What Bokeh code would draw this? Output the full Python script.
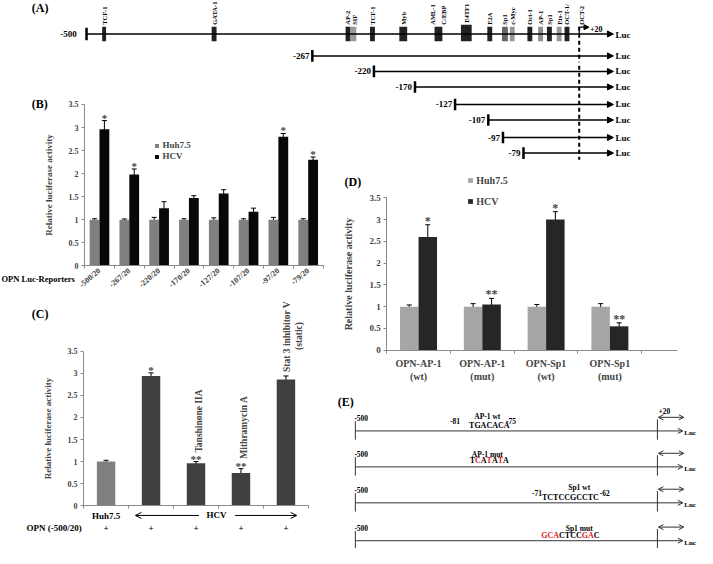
import math
from bokeh.plotting import figure
from bokeh.models import (Range1d, FixedTicker, Whisker, TeeHead, ColumnDataSource,
                          Legend, LegendItem, Label, LabelSet, Arrow, NormalHead, OpenHead)
from bokeh.core.properties import value
from bokeh.layouts import column, row
from bokeh.embed import file_html
from bokeh.resources import INLINE

FONT = "Liberation Serif"
AXIS = "#8a8a8a"
SX = 697 / 713   # reference px -> layout px
SY = 548 / 564

# ---------------- data ----------------
y_ticks = [0, 0.5, 1, 1.5, 2, 2.5, 3, 3.5]
y_tick_labels = ["0", "0.5", "1", "1.5", "2", "2.5", "3", "3.5"]
y_title = "Relative luciferase activity"
series_names = ["Huh7.5", "HCV"]

# Panel B
b_categories = ["-500/20", "-267/20", "-220/20", "-170/20", "-127/20", "-107/20", "-97/20", "-79/20"]
b_huh = [1.0, 1.0, 1.0, 1.0, 1.0, 1.0, 1.0, 1.0]
b_huh_err = [0.02, 0.015, 0.05, 0.02, 0.04, 0.02, 0.05, 0.02]
b_hcv = [2.96, 1.98, 1.25, 1.47, 1.57, 1.17, 2.80, 2.30]
b_hcv_err = [0.19, 0.12, 0.14, 0.05, 0.08, 0.08, 0.07, 0.06]
b_sig = ["*", "*", "", "", "", "", "*", "*"]

# Panel C
c_categories = ["Huh7.5", "HCV", "Tanshinone IIA", "Mithramycin A", "Stat 3 inhibitor V"]
c_values = [1.0, 2.94, 0.96, 0.74, 2.86]
c_err = [0.03, 0.07, 0.04, 0.10, 0.08]
c_sig = ["", "*", "**", "**", ""]
c_opn = ["+", "+", "+", "+", "+"]

# Panel D
d_categories = ["OPN-AP-1\n(wt)", "OPN-AP-1\n(mut)", "OPN-Sp1\n(wt)", "OPN-Sp1\n(mut)"]
d_huh = [1.0, 1.0, 1.0, 1.0]
d_huh_err = [0.04, 0.07, 0.05, 0.07]
d_hcv = [2.6, 1.05, 3.0, 0.55]
d_hcv_err = [0.28, 0.14, 0.18, 0.08]
d_sig = ["*", "**", "*", "**"]

# Panel A (schematic)
tf_names = ["TCF-1", "GATA-1", "AP-2", "SIF", "TCF-1", "Myb", "AML-1", "C/EBP", "E4TF1", "E2A",
            "Sp1", "c-Myc", "Oct-1", "AP-1", "Sp1", "Ets-1", "OCT-1/", "OCT-2"]
constructs = ["-267", "-220", "-170", "-127", "-107", "-97", "-79"]

# Panel E
e_rows = ["-500", "-500", "-500", "-500"]


# ---------------- helpers ----------------
def diagram(lx0, ly0, lx1, ly1):
    p = figure(width=lx1 - lx0, height=ly1 - ly0,
               x_range=Range1d(lx0 / SX, lx1 / SX), y_range=Range1d(ly1 / SY, ly0 / SY),
               x_axis_type=None, y_axis_type=None, output_backend="svg",
               toolbar_location=None, min_border=0)
    p.outline_line_color = None
    p.grid.visible = False
    return p


def txt(p, x, y, s, size="9px", align="left", baseline="middle", color="black", angle=0.0):
    p.text(x=[x], y=[y], text=[s], text_font=value(FONT), text_font_size=size,
           text_font_style="bold", text_align=align, text_baseline=baseline,
           text_color=color, angle=angle)


def arrow(p, x0, y0, x1, y1, size=6, width=1.5, head="normal", start_head=False, color="black"):
    if head == "normal":
        mk = lambda: NormalHead(size=size, fill_color=color, line_color=color, line_width=1)
    else:
        mk = lambda: OpenHead(size=size, line_color=color, line_width=1)
    p.add_layout(Arrow(end=mk(), start=mk() if start_head else None,
                       x_start=x0, y_start=y0, x_end=x1, y_end=y1,
                       line_width=width, line_color=color))


def construct(p, label, xs, y):
    p.segment(x0=[xs], y0=[y - 6], x1=[xs], y1=[y + 6], line_width=2.5, line_color="black")
    arrow(p, xs, y, 627, y)
    txt(p, xs - 3, y, label, size="9px", align="right")
    txt(p, 629, y, "Luc", size="9px")


def bar_panel(lbox, cbox, xmax, xbound, tick_size="8px", label_size="9px", ymax=3.5):
    lx0, ly0, lx1, ly1 = lbox
    ax0, ayt, ax1, ayb = cbox
    cx0, cx1, cyt, cyb = ax0 * SX, ax1 * SX, ayt * SY, ayb * SY
    sx = (cx1 - cx0) / xmax
    sy = (cyb - cyt) / ymax
    p = figure(width=lx1 - lx0, height=ly1 - ly0,
               x_range=Range1d(-(cx0 - lx0) / sx, xmax + (lx1 - cx1) / sx),
               y_range=Range1d(-(ly1 - cyb) / sy, ymax + (cyt - ly0) / sy),
               output_backend="svg", toolbar_location=None, min_border=0)
    p.outline_line_color = None
    p.grid.visible = False
    ya = p.yaxis[0]
    ya.fixed_location = 0
    ya.bounds = (0, ymax)
    ya.ticker = FixedTicker(ticks=y_ticks)
    ya.major_label_overrides = {float(t): s for t, s in zip(y_ticks, y_tick_labels)}
    ya.major_label_text_font = FONT
    ya.major_label_text_font_style = "bold"
    ya.major_label_text_font_size = tick_size
    ya.major_label_standoff = 3
    ya.axis_line_color = AXIS
    ya.major_tick_line_color = AXIS
    ya.major_tick_out = 3
    ya.major_tick_in = 0
    ya.minor_tick_line_color = None
    ya.axis_label = y_title
    ya.axis_label_text_font = FONT
    ya.axis_label_text_font_style = "bold"
    ya.axis_label_text_font_size = label_size
    ya.axis_label_standoff = 12
    xa = p.xaxis[0]
    xa.fixed_location = 0
    xa.bounds = (0, xbound)
    xa.ticker = FixedTicker(ticks=[i + 0.5 for i in range(int(xmax))],
                            minor_ticks=list(range(int(xmax) + 1)))
    xa.major_tick_line_color = None
    xa.major_tick_out = 0
    xa.minor_tick_line_color = AXIS
    xa.minor_tick_out = 3
    xa.minor_tick_in = 0
    xa.axis_line_color = AXIS
    xa.major_label_text_font = FONT
    xa.major_label_text_font_style = "bold"
    xa.major_label_text_font_size = tick_size
    X = lambda rx: (rx * SX - cx0) / sx
    Y = lambda ry: (cyb - ry * SY) / sy
    LOC = lambda rx, ry: (rx * SX - lx0, ly1 - ry * SY)
    return p, X, Y, LOC


def bars(p, xs, tops, errs, colors, width):
    if isinstance(colors, str):
        colors = [colors] * len(xs)
    src = ColumnDataSource(dict(x=xs, top=tops, color=colors,
                                upper=[t + e for t, e in zip(tops, errs)],
                                lower=[t - e for t, e in zip(tops, errs)]))
    r = p.vbar(x="x", top="top", width=width, source=src, fill_color="color", line_color=None)
    p.add_layout(Whisker(source=src, base="x", upper="upper", lower="lower", line_color="black",
                         line_width=1, upper_head=TeeHead(size=5, line_width=1, line_color="black"),
                         lower_head=TeeHead(size=5, line_width=1, line_color="black")))
    return r


def stars(p, xs, ys, texts, size="11px", yoff=-3):
    src = ColumnDataSource(dict(x=xs, y=ys, t=texts))
    p.add_layout(LabelSet(x="x", y="y", text="t", source=src, text_font=FONT, text_font_size=size,
                          text_font_style="bold", text_align="center", text_baseline="bottom",
                          y_offset=yoff))


def plabel(p, x, y, s, size="9px", align="center", baseline="middle", angle=0.0, xo=0, yo=0):
    p.add_layout(Label(x=x, y=y, text=s, text_font=FONT, text_font_size=size, text_font_style="bold",
                       text_align=align, text_baseline=baseline, angle=angle, x_offset=xo, y_offset=yo))


def legend(p, renderers, loc, size, gw, spacing):
    p.add_layout(Legend(items=[LegendItem(label=n, renderers=[r]) for n, r in zip(series_names, renderers)],
                        location=loc, glyph_width=gw, glyph_height=gw, label_height=10,
                        label_text_font=FONT, label_text_font_style="bold", label_text_font_size=size,
                        label_standoff=3, spacing=spacing, padding=0, margin=0, border_line_color=None,
                        background_fill_alpha=0))


# ---------------- Panel A top ----------------
pa = diagram(0, 0, 697, 62)
txt(pa, 32, 8, "(A)", size="12px")
ym = 34.5
arrow(pa, 88, ym, 627, ym)
pa.segment(x0=[88], y0=[28], x1=[88], y1=[41], line_width=2.5, line_color="black")
txt(pa, 78, ym, "-500", size="9px", align="right")
txt(pa, 629, ym + 0.5, "Luc", size="9px")
box_l = [104, 216, 353, 358, 378, 408, 444, 471, 498, 513, 521, 539, 550, 559, 569, 577]
box_r = [108, 221, 358, 364, 383, 416, 452, 482, 503, 519, 526, 544, 555, 564, 574, 582]
box_t = [27, 27, 27, 27, 27, 27, 27, 25, 27, 27, 27, 27, 27, 27, 27, 27]
box_c = ["#222", "#222", "#222", "#999", "#222", "#222", "#222", "#222", "#222", "#666",
         "#999", "#222", "#8e8e8e", "#222", "#999", "#222"]
pa.quad(left=box_l, right=box_r, top=box_t, bottom=[42] * len(box_l), fill_color=box_c, line_color=None)
lab_x = [106, 218.5, 355, 362, 380.5, 412, 442, 453, 477, 500.5, 516, 524, 541.5, 552.5, 561.5, 572, 579.5, 594]
lab_y = [25] * len(lab_x)
lab_y[8] = 23
pa.text(x=lab_x, y=lab_y, text=tf_names, text_font=value(FONT), text_font_size="6.5px",
        text_font_style="bold", text_align="left", text_baseline="middle", angle=math.pi / 2)
pa.segment(x0=[592], y0=[27], x1=[592], y1=[70], line_width=2, line_dash="4 3", line_color="black")
pa.segment(x0=[592], y0=[ym], x1=[592], y1=[27.5], line_width=1.2, line_color="black")
arrow(pa, 592, 27.5, 602, 27.5, size=5, width=1.2)
txt(pa, 603, 29, "+20", size="8px")
construct(pa, constructs[0], 319, 57)

# ---------------- Panel A bottom ----------------
pab = diagram(328, 62, 697, 163)
pab.segment(x0=[592], y0=[60], x1=[592], y1=[164], line_width=2, line_dash="4 3", line_color="black")
cx = [382, 424, 465, 499, 514, 535]
cy = [73, 89, 107, 123, 141, 157]
for lab, xs, yy in zip(constructs[1:], cx, cy):
    construct(pab, lab, xs, yy)

# ---------------- Panel B ----------------
pb, BX, BY, BL = bar_panel((0, 62, 328, 290), (86, 107, 330, 273), 8, 8)
pb.xaxis[0].major_label_overrides = {i + 0.5: c for i, c in enumerate(b_categories)}
pb.xaxis[0].major_label_orientation = 0.7
pb.xaxis[0].major_label_standoff = 1
bw = 0.33
rb1 = bars(pb, [i + 0.5 - bw / 2 for i in range(8)], b_huh, b_huh_err, "#808080", bw)
rb2 = bars(pb, [i + 0.5 + bw / 2 for i in range(8)], b_hcv, b_hcv_err, "#080808", bw)
stars(pb, [i + 0.5 + bw / 2 for i in range(8)], [v + e for v, e in zip(b_hcv, b_hcv_err)], b_sig)
legend(pb, [rb1, rb2], BL(158, 166), "9px", 5, 1)
txt(pb, BX(1), BY(287), "OPN Luc-Reporters", size="8.5px")
txt(pb, BX(32), BY(107), "(B)", size="12px")

# ---------------- Panel C ----------------
pc, CX, CY, CL = bar_panel((0, 290, 328, 548), (85, 361, 315, 520), 5, 5)
pc.xaxis[0].ticker = FixedTicker(ticks=[], minor_ticks=[0, 1, 2, 3, 4, 5])
cw = 0.41
c_colors = ["#808080", "#404040", "#404040", "#404040", "#404040"]
bars(pc, [i + 0.5 for i in range(5)], c_values, c_err, c_colors, cw)
stars(pc, [i + 0.5 for i in range(5)], [v + e for v, e in zip(c_values, c_err)], c_sig)
plabel(pc, 2.5, c_values[2] + c_err[2], c_categories[2], size="9.5px", align="left", angle=math.pi / 2, xo=3, yo=9)
plabel(pc, 3.5, c_values[3] + c_err[3], c_categories[3], size="9.5px", align="left", angle=math.pi / 2, xo=3, yo=10)
plabel(pc, 4.5, c_values[4] + c_err[4], c_categories[4], size="9.5px", align="left", angle=math.pi / 2, xo=1, yo=4)
plabel(pc, 4.5, c_values[4] + c_err[4], "(static)", size="9.5px", align="center", angle=math.pi / 2, xo=13, yo=40)
txt(pc, 0.5, CY(531), c_categories[0], size="9px", align="center")
txt(pc, CX(221), CY(530), "HCV", size="9px", align="center")
arrow(pc, CX(203), CY(530), CX(138), CY(530), size=6, width=1, head="open")
arrow(pc, CX(240), CY(530), CX(303), CY(530), size=6, width=1, head="open")
pc.text(x=[i + 0.5 for i in range(5)], y=[CY(543)] * 5, text=c_opn, text_font=value(FONT),
        text_font_size="9px", text_font_style="bold", text_align="center", text_baseline="middle")
txt(pc, CX(83), CY(543), "OPN (-500/20)", size="9px", align="right")
txt(pc, CX(32), CY(323), "(C)", size="12px")

# ---------------- Panel D ----------------
pd_, DX, DY, DL = bar_panel((328, 163, 697, 382), (395, 203, 656, 360), 4, 4.56,
                            tick_size="9px", label_size="10px")
pd_.xaxis[0].major_label_overrides = {i + 0.5: c for i, c in enumerate(d_categories)}
pd_.xaxis[0].major_label_text_font_size = "10px"
pd_.xaxis[0].major_label_standoff = 5
dw = 0.29
rd1 = bars(pd_, [i + 0.5 - dw / 2 for i in range(4)], d_huh, d_huh_err, "#a6a6a6", dw)
rd2 = bars(pd_, [i + 0.5 + dw / 2 for i in range(4)], d_hcv, d_hcv_err, "#262626", dw)
stars(pd_, [i + 0.5 + dw / 2 for i in range(4)], [v + e for v, e in zip(d_hcv, d_hcv_err)], d_sig, size="12px")
legend(pd_, [rd1, rd2], DL(478, 213), "10px", 6, 10)
txt(pd_, DX(352), DY(187), "(D)", size="12px")

# ---------------- Panel E ----------------
pe = diagram(328, 382, 697, 548)
txt(pe, 345, 413, "(E)", size="12px")
e_y = [443, 480, 517, 556]
for lab, yy in zip(e_rows, e_y):
    pe.segment(x0=[363], y0=[yy - 10], x1=[363], y1=[yy + 9], line_width=1, line_color="#333")
    pe.segment(x0=[672], y0=[yy - 12], x1=[672], y1=[yy + 9], line_width=1, line_color="#333")
    arrow(pe, 363, yy, 698, yy, size=5, width=1, head="open", color="#333")
    arrow(pe, 673, yy - 14, 699, yy - 14, size=5, width=1, head="open", start_head=True, color="#333")
    txt(pe, 362, yy - 13, lab, size="7.5px")
    txt(pe, 699.5, yy + 2, "Luc", size="7px")
txt(pe, 673, 422, "+20", size="7.5px")

TB = {"A": 722, "C": 722, "G": 778, "T": 667}


def seq(p, s, reds, xc, y, size=8):
    widths = [TB[ch] * size / 1000 / SX for ch in s]
    x = xc - sum(widths) / 2
    for i, (ch, w) in enumerate(zip(s, widths)):
        txt(p, x, y, ch, size=f"{size}px", color="#e02020" if i in reds else "black")
        x += w


txt(pe, 498, 428, "AP-1 wt", size="7.5px", align="center")
txt(pe, 470, 433, "-81", size="7.5px", align="right")
seq(pe, "TGACACA", [], 500, 437)
txt(pe, 517, 433, "-75", size="7.5px")
txt(pe, 498, 467, "AP-1 mut", size="7.5px", align="center")
seq(pe, "TCATATA", [1, 3, 5], 500, 473)
txt(pe, 592, 501, "Sp1 wt", size="7.5px", align="center")
txt(pe, 554, 507, "-71", size="7.5px", align="right")
seq(pe, "TCTCCGCCTC", [], 583, 512)
txt(pe, 613, 507, "-62", size="7.5px")
txt(pe, 592, 543, "Sp1 mut", size="7.5px", align="center")
seq(pe, "GCACTCCGAC", [0, 1, 2, 7, 8], 583, 551)

layout = column(pa, row(column(pb, pc), column(pab, pd_, pe)))
open("out.html", "w").write(file_html(layout, INLINE))
